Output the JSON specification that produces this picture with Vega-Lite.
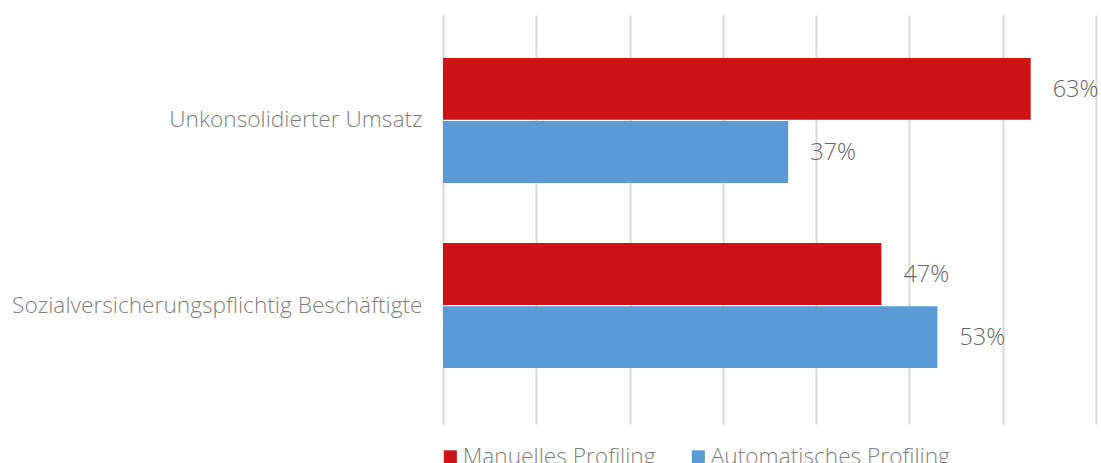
{
  "$schema": "https://vega.github.io/schema/vega-lite/v6.json",
  "width": 653,
  "height": 409,
  "autosize": {"type": "none"},
  "padding": {"left": 443, "top": 15, "right": 5, "bottom": 39},
  "config": {"view": {"stroke": null}, "font": "Open Sans"},
  "data": {
    "values": [
      {"kategorie": "Unkonsolidierter Umsatz", "serie": "Manuelles Profiling", "wert": 0.63},
      {"kategorie": "Unkonsolidierter Umsatz", "serie": "Automatisches Profiling", "wert": 0.37},
      {"kategorie": "Sozialversicherungspflichtig Beschäftigte", "serie": "Manuelles Profiling", "wert": 0.47},
      {"kategorie": "Sozialversicherungspflichtig Beschäftigte", "serie": "Automatisches Profiling", "wert": 0.53}
    ]
  },
  "encoding": {
    "y": {
      "field": "kategorie",
      "type": "nominal",
      "sort": ["Unkonsolidierter Umsatz", "Sozialversicherungspflichtig Beschäftigte"],
      "scale": {"paddingInner": 0.324, "paddingOuter": 0.267, "align": 0.434},
      "axis": {
        "title": null,
        "domain": false,
        "ticks": false,
        "labelPadding": 21,
        "labelFontSize": 22.7,
        "labelFontWeight": 300,
        "labelLimit": 500,
        "labelColor": "#7f7f7f",
        "labelFont": "Open Sans",
        "grid": false
      }
    },
    "yOffset": {
      "field": "serie",
      "type": "nominal",
      "sort": ["Manuelles Profiling", "Automatisches Profiling"],
      "scale": {"paddingInner": 0.02}
    },
    "x": {
      "field": "wert",
      "type": "quantitative",
      "scale": {"domain": [0, 0.7], "nice": false},
      "axis": {
        "title": null,
        "labels": false,
        "domain": false,
        "ticks": false,
        "values": [0, 0.1, 0.2, 0.3, 0.4, 0.5, 0.6, 0.7],
        "gridColor": "#d9d9d9",
        "gridWidth": 2
      }
    }
  },
  "layer": [
    {
      "mark": {"type": "bar"},
      "encoding": {
        "color": {
          "field": "serie",
          "type": "nominal",
          "sort": ["Manuelles Profiling", "Automatisches Profiling"],
          "scale": {"domain": ["Manuelles Profiling", "Automatisches Profiling"], "range": ["#cc1417", "#5b9bd5"]},
          "legend": {
            "title": null,
            "orient": "none",
            "legendX": -4,
            "legendY": 430,
            "direction": "horizontal",
            "symbolType": "square",
            "symbolSize": 170,
            "symbolStrokeWidth": 0,
            "symbolOpacity": 1,
            "labelFontSize": 22.7,
            "labelFontWeight": 300,
            "labelColor": "#7f7f7f",
            "labelOffset": 1,
            "columnPadding": 31,
            "labelLimit": 400
          }
        }
      }
    },
    {
      "mark": {"type": "text", "align": "left", "baseline": "middle", "dx": 22, "dy": 1, "fontSize": 23.5, "fontWeight": 300, "color": "#666666"},
      "encoding": {
        "text": {"field": "wert", "type": "quantitative", "format": ".0%"}
      }
    }
  ]
}
